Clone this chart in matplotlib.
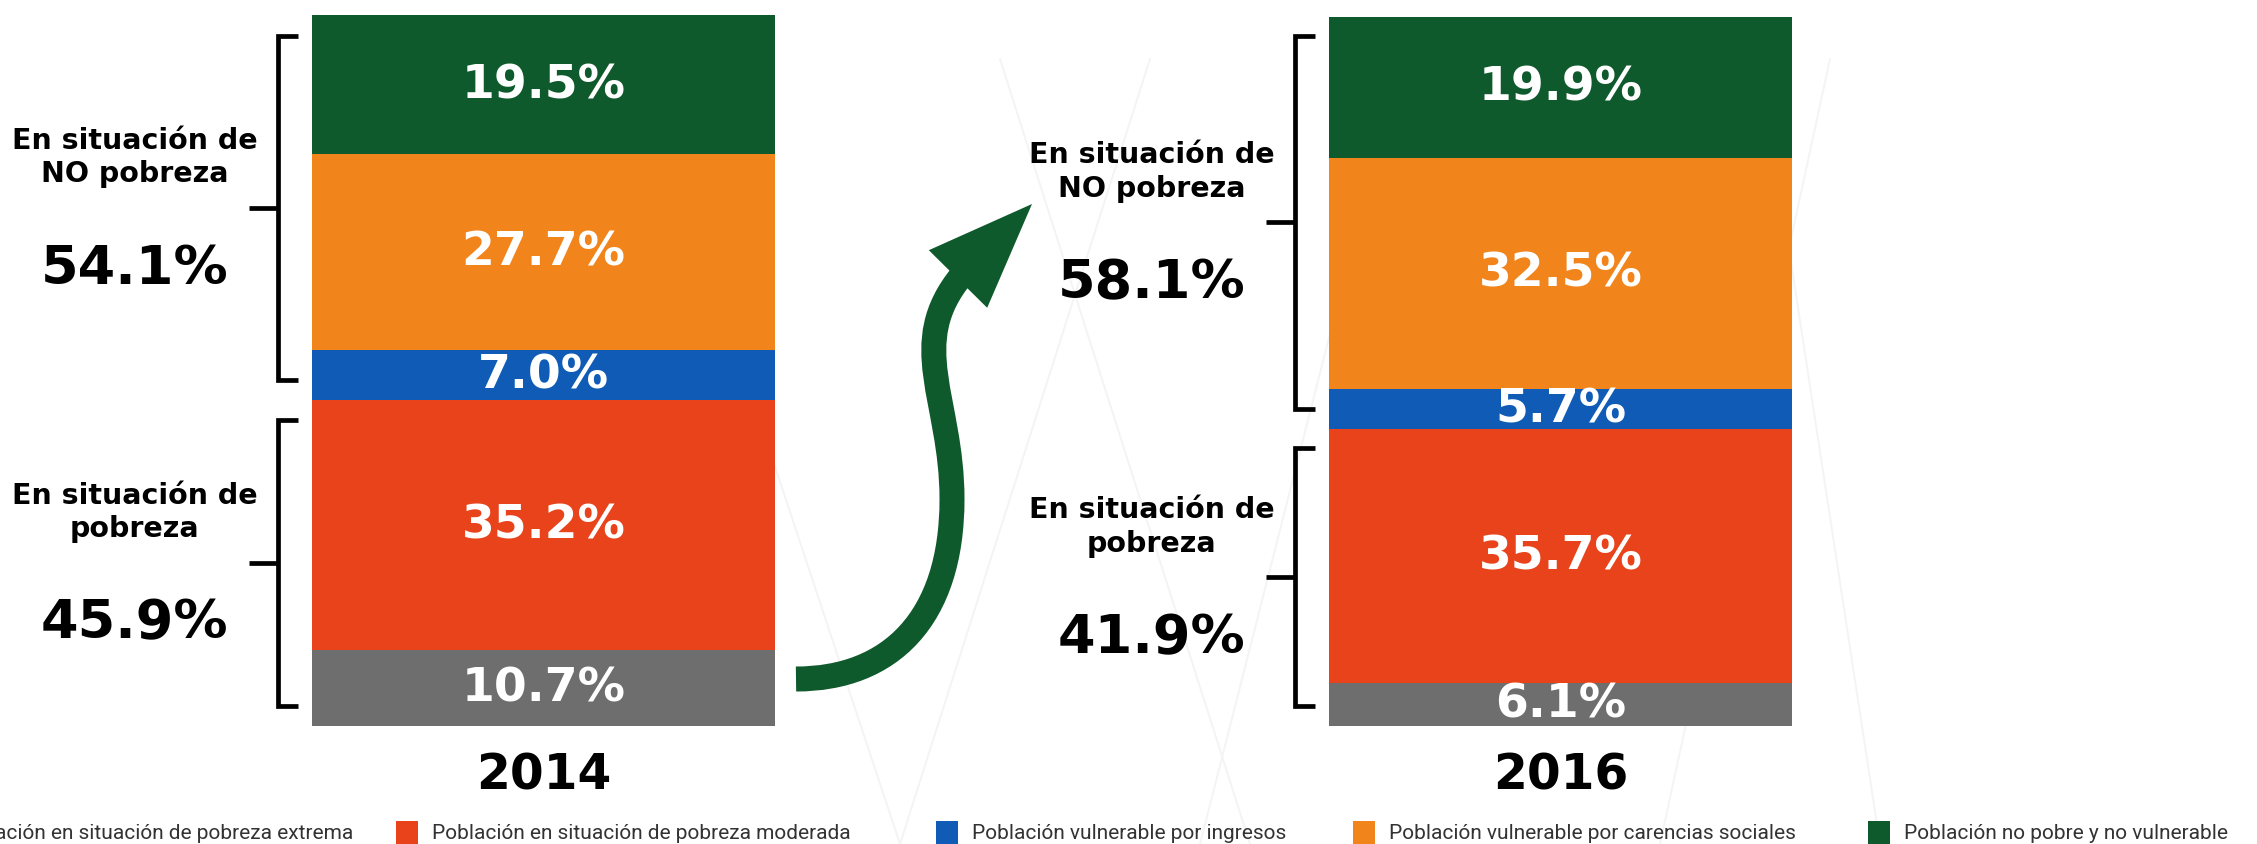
import matplotlib
matplotlib.use("Agg")
import matplotlib.pyplot as plt
import matplotlib.patches as mpatches
from matplotlib.path import Path

W_PX, H_PX, DPI = 2257, 845, 100
FONT_BOLD = "DejaVu Sans"
FONT_LEG = ["Roboto", "DejaVu Sans"]

C_GRAY   = "#6E6E6E"
C_RED    = "#E8431B"
C_BLUE   = "#0F5BB5"
C_ORANGE = "#F2841C"
C_GREEN  = "#0F5A2C"

years = ["2014", "2016"]
categorias = [
    "Población en situación de pobreza extrema",
    "Población en situación de pobreza moderada",
    "Población vulnerable por ingresos",
    "Población vulnerable por carencias sociales",
    "Población no pobre y no vulnerable",
]
pobreza_extrema   = [10.7, 6.1]
pobreza_moderada  = [35.2, 35.7]
vuln_ingresos     = [7.0, 5.7]
vuln_carencias    = [27.7, 32.5]
no_pobre          = [19.5, 19.9]
total_pobreza     = [45.9, 41.9]
total_no_pobreza  = [54.1, 58.1]

series = [pobreza_extrema, pobreza_moderada, vuln_ingresos, vuln_carencias, no_pobre]
colores = [C_GRAY, C_RED, C_BLUE, C_ORANGE, C_GREEN]

fig = plt.figure(figsize=(W_PX / DPI, H_PX / DPI), dpi=DPI, facecolor="white")

def fx(px):
    return px / W_PX

def fy(py):
    return 1 - py / H_PX

# faint watermark lines
for (x0, y0, x1, y1) in [(1000, 60, 1250, 845), (1150, 60, 900, 845),
                         (640, 60, 900, 845), (1400, 60, 1200, 845),
                         (1760, 60, 1880, 845), (1830, 60, 1660, 845)]:
    fig.add_artist(plt.Line2D([fx(x0), fx(x1)], [fy(y0), fy(y1)],
                              color="#F4F4F4", lw=1.4, zorder=0))

ax = fig.add_axes([0, fy(727), 1, (727 - 17) / H_PX])
ax.set_xlim(-0.5344, 1.6849)
ax.set_ylim(0, 100)
ax.axis("off")
ax.patch.set_alpha(0)

pos = [0, 1]
bw = 0.455
bottoms = [0.0, 0.0]
for vals, col in zip(series, colores):
    ax.bar(pos, vals, width=bw, bottom=bottoms, color=col, edgecolor="none",
           zorder=2, clip_on=False)
    for i, v in enumerate(vals):
        ax.text(pos[i], bottoms[i] + v / 2, f"{v:.1f}%", ha="center",
                va="center", color="white", fontsize=34, fontweight="bold",
                fontfamily=FONT_BOLD, zorder=3)
    bottoms = [b + v for b, v in zip(bottoms, vals)]

# year labels
for i, y in enumerate(years):
    ax.annotate(y, (pos[i], 0), xytext=(0, -35), textcoords="offset points",
                ha="center", va="center", fontsize=35, fontweight="bold",
                fontfamily=FONT_BOLD, color="black", annotation_clip=False)

# brackets + group labels
inset = 2.8
for i in range(2):
    xb = pos[i] - bw / 2 - 0.034
    groups = [
        (0, total_pobreza[i], "En situación de\npobreza", total_pobreza[i]),
        (total_pobreza[i], total_pobreza[i] + total_no_pobreza[i],
         "En situación de\nNO pobreza", total_no_pobreza[i]),
    ]
    for lo, hi, lab, tot in groups:
        y0, y1 = lo + inset, min(hi, 100) - inset
        ym = (y0 + y1) / 2
        ax.plot([xb + 0.02, xb, xb, xb + 0.02], [y0, y0, y1, y1],
                color="black", lw=3.4, solid_joinstyle="miter",
                solid_capstyle="butt", clip_on=False, zorder=3)
        ax.plot([xb - 0.028, xb], [ym, ym], color="black", lw=3.4,
                solid_capstyle="butt", clip_on=False, zorder=3)
        ax.annotate(lab, (xb, ym), xytext=(-103, 37), textcoords="offset points",
                    ha="center", va="center", fontsize=20.5, fontweight="bold",
                    fontfamily=FONT_BOLD, linespacing=1.25,
                    annotation_clip=False)
        ax.annotate(f"{tot:.1f}%", (xb, ym), xytext=(-103, -43),
                    textcoords="offset points", ha="center", va="center",
                    fontsize=39, fontweight="bold", fontfamily=FONT_BOLD,
                    annotation_clip=False)

# curved green arrow
verts = [(796, 680), (890, 680), (952, 620), (952, 500),
         (952, 400), (905, 345), (962, 276)]
codes = [Path.MOVETO, Path.CURVE4, Path.CURVE4, Path.CURVE4,
         Path.CURVE4, Path.CURVE4, Path.CURVE4]
shaft = Path([(fx(x), fy(y)) for x, y in verts], codes)
fig.add_artist(mpatches.PathPatch(shaft, facecolor="none", edgecolor=C_GREEN,
                                  lw=18, capstyle="butt",
                                  transform=fig.transFigure, zorder=4))
tip, base = (1032, 205), (958, 280)
dx, dy = tip[0] - base[0], tip[1] - base[1]
n = (dx ** 2 + dy ** 2) ** 0.5
px, py = -dy / n * 41, dx / n * 41
head = [(base[0] + px, base[1] + py), tip, (base[0] - px, base[1] - py)]
fig.add_artist(mpatches.Polygon([(fx(x), fy(y)) for x, y in head],
                                closed=True, facecolor=C_GREEN, edgecolor="none",
                                transform=fig.transFigure, zorder=4))

# legend along the bottom
leg_sq = [None, 396, 936, 1353, 1868]
for sq, lab, col in zip(leg_sq, categorias, colores):
    if sq is None:
        fig.text(fx(353), fy(834), lab, ha="right", va="center",
                 fontsize=15, fontfamily=FONT_LEG, color="#333333")
        continue
    fig.add_artist(mpatches.Rectangle((fx(sq), fy(846)), fx(22), 24 / H_PX,
                                      facecolor=col, edgecolor="none",
                                      transform=fig.transFigure))
    fig.text(fx(sq + 36), fy(834), lab, ha="left", va="center",
             fontsize=15, fontfamily=FONT_LEG, color="#333333")

fig.savefig("out.png", dpi=DPI, facecolor="white")
